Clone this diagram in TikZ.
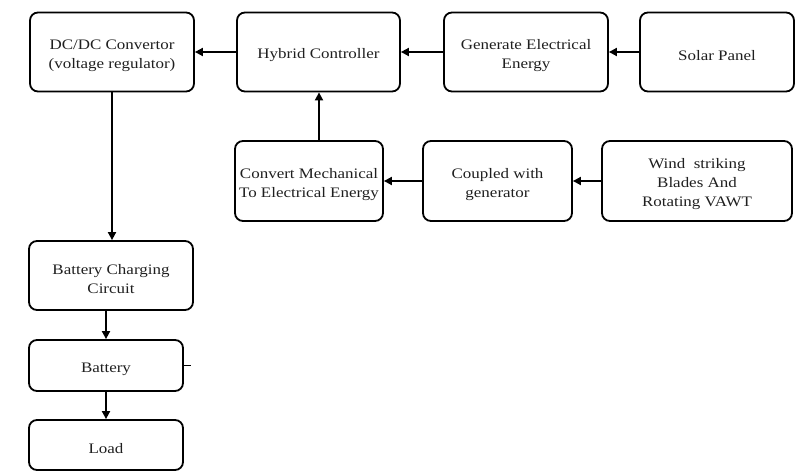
\documentclass[tikz,border=0pt]{standalone}
\usepackage{fontspec}
\setmainfont{Liberation Serif}[FakeStretch=1.17]
\usetikzlibrary{arrows.meta,calc}
\newcommand\tp{\rule{0pt}{17pt}}
\begin{document}
\begin{tikzpicture}[x=1pt,y=-1pt,
  blk/.style={draw=black,line width=1.8pt,rounded corners=8pt,align=center,
    inner sep=0pt,font=\fontsize{14.5}{19}\selectfont,text=black!88},
  arr/.style={line width=1.8pt,-{Triangle[length=8pt,width=8pt]}}]
\useasboundingbox (0,0) rectangle (796,473);
\node[blk,minimum width=164pt,minimum height=79pt] (dcdc) at (112,52) {\tp DC/DC Convertor\\(voltage regulator)};
\node[blk,minimum width=163pt,minimum height=79pt] (hyb) at (318.5,52) {\tp Hybrid Controller};
\node[blk,minimum width=164pt,minimum height=79pt] (gen) at (526,52) {\tp Generate Electrical\\Energy};
\node[blk,minimum width=154pt,minimum height=79pt] (solar) at (717,52) {\tp Solar Panel};
\node[blk,minimum width=148pt,minimum height=80pt] (conv) at (309,181) {\tp Convert Mechanical\\To Electrical Energy};
\node[blk,minimum width=149pt,minimum height=80pt] (coup) at (497.5,181) {\tp Coupled with\\generator};
\node[blk,minimum width=190pt,minimum height=80pt] (wind) at (697,181) {\tp Wind~ striking\\Blades And\\Rotating VAWT};
\node[blk,minimum width=164pt,minimum height=69pt] (bcc) at (111,275.5) {\tp Battery Charging\\Circuit};
\node[blk,minimum width=154pt,minimum height=51pt] (bat) at (106,365.5) {\tp Battery};
\node[blk,minimum width=154pt,minimum height=50pt] (load) at (106,445) {\tp Load};
\draw[arr] (hyb.west) -- (dcdc.east);
\draw[arr] (gen.west) -- (hyb.east);
\draw[arr] (solar.west) -- (gen.east);
\draw[arr] (wind.west) -- (coup.east);
\draw[arr] (coup.west) -- (conv.east);
\coordinate (hb) at ($(hyb.south)+(0.5,0)$);
\draw[arr] (hb |- conv.north) -- (hb);
\draw[arr] (dcdc.south) -- (dcdc.south |- bcc.north);
\draw[arr] (bat.north |- bcc.south) -- (bat.north);
\draw[arr] (bat.south) -- (load.north);
\coordinate (tick) at ($(bat.east)+(7,0)$);
\draw[line width=1pt] (bat.east) -- (tick);
\end{tikzpicture}
\end{document}
